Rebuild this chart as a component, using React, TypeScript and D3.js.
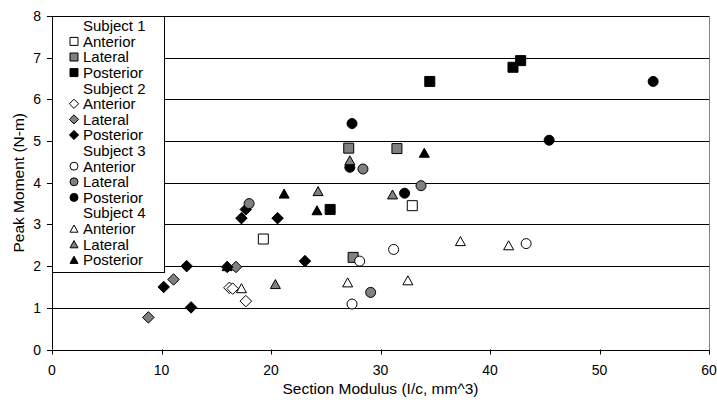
import React from "react";
import * as d3 from "d3";

// ---- data ----
const xTicks = [0, 10, 20, 30, 40, 50, 60];
const yTicks = [0, 1, 2, 3, 4, 5, 6, 7, 8];

const s1Anterior = [[19.3, 2.65], [32.9, 3.45]];
const s1Lateral = [[27.1, 4.83], [31.5, 4.82], [27.5, 2.21]];
const s1Posterior = [[25.4, 3.36], [34.5, 6.43], [42.1, 6.77], [42.8, 6.93]];

const s2Anterior = [[16.2, 1.48], [16.5, 1.46], [17.7, 1.16]];
const s2Lateral = [[8.8, 0.77], [11.1, 1.68], [16.8, 1.98]];
const s2Posterior = [[10.2, 1.5], [12.3, 2.0], [12.7, 1.01], [16.0, 1.98], [17.3, 3.15], [17.7, 3.36], [20.6, 3.15], [23.1, 2.12]];

const s3Anterior = [[28.1, 2.12], [31.2, 2.4], [27.4, 1.09], [43.3, 2.54]];
const s3Lateral = [[18.0, 3.5], [28.4, 4.33], [33.7, 3.93], [29.1, 1.37]];
const s3Posterior = [[27.4, 5.42], [27.2, 4.37], [32.2, 3.75], [45.4, 5.02], [54.9, 6.43]];

const s4Anterior = [[17.3, 1.47], [27.0, 1.61], [32.5, 1.66], [37.3, 2.6], [41.7, 2.5]];
const s4Lateral = [[20.4, 1.57], [24.3, 3.8], [27.2, 4.54], [31.1, 3.72]];
const s4Posterior = [[16.0, 2.0], [21.2, 3.74], [24.2, 3.34], [34.0, 4.72]];

const subjects = ["Subject 1", "Subject 2", "Subject 3", "Subject 4"];
const shapes = ["square", "diamond", "circle", "triangle"];
const sides = ["Anterior", "Lateral", "Posterior"];
const fills = ["#ffffff", "#808080", "#000000"];
const seriesData = [
  [s1Anterior, s1Lateral, s1Posterior],
  [s2Anterior, s2Lateral, s2Posterior],
  [s3Anterior, s3Lateral, s3Posterior],
  [s4Anterior, s4Lateral, s4Posterior],
];

// ---- layout ----
const W = 717, H = 405;
const L = 52, T = 16, R = 709, B = 349.5;
const FONT = "'Liberation Sans', Arial, sans-serif";

function markerPath(shape: string, s: number) {
  const h = s / 2;
  if (shape === "square") return `M${-h},${-h}H${h}V${h}H${-h}Z`;
  if (shape === "diamond") {
    const d = h * 1.15;
    return `M0,${-d}L${d},0L0,${d}L${-d},0Z`;
  }
  if (shape === "triangle") {
    const th = s * 0.9;
    return `M0,${-th / 2}L${h},${th / 2}L${-h},${th / 2}Z`;
  }
  return d3.arc()({ innerRadius: 0, outerRadius: h, startAngle: 0, endAngle: 2 * Math.PI }) as string;
}

export default function App() {
  const x = d3.scaleLinear().domain([0, 60]).range([L, R]);
  const y = d3.scaleLinear().domain([0, 8]).range([B, T]);

  const legendRows: { label: string; shape?: string; fill?: string }[] = [];
  subjects.forEach((sub, i) => {
    legendRows.push({ label: sub });
    sides.forEach((sd, j) => legendRows.push({ label: sd, shape: shapes[i], fill: fills[j] }));
  });
  const rowH = 15.6;
  const legTop = T + 2;

  return (
    <svg width={W} height={H} style={{ position: "absolute", left: 0, top: 0, background: "#fff" }} fontFamily={FONT}>
      {/* gridlines */}
      {yTicks.filter((t) => t > 0).map((t) => (
        <line key={"g" + t} x1={L} x2={R} y1={Math.round(y(t)) + 0.5} y2={Math.round(y(t)) + 0.5} stroke="#000" strokeWidth={1} />
      ))}
      {/* plot border right */}
      <line x1={R + 0.5} x2={R + 0.5} y1={T} y2={B} stroke="#808080" strokeWidth={1} />
      {/* axes */}
      <line x1={L + 0.5} x2={L + 0.5} y1={T} y2={B} stroke="#000" />
      <line x1={L} x2={R + 1} y1={Math.round(B) + 0.5} y2={Math.round(B) + 0.5} stroke="#000" />
      {yTicks.map((t) => (
        <g key={"yt" + t}>
          <line x1={L - 5} x2={L} y1={Math.round(y(t)) + 0.5} y2={Math.round(y(t)) + 0.5} stroke="#000" />
          <text x={L - 11} y={y(t)} dy="0.36em" textAnchor="end" fontSize={14}>{t}</text>
        </g>
      ))}
      {xTicks.map((t) => (
        <g key={"xt" + t}>
          <line x1={Math.round(x(t)) + 0.5} x2={Math.round(x(t)) + 0.5} y1={B} y2={B + 5} stroke="#000" />
          <text x={x(t)} y={B + 20} dy="0.36em" textAnchor="middle" fontSize={14}>{t}</text>
        </g>
      ))}
      <text x={(L + R) / 2} y={388} dy="0.36em" textAnchor="middle" fontSize={15.5}>Section Modulus (I/c, mm^3)</text>
      <text transform={`translate(18,${(T + B) / 2}) rotate(-90)`} dy="0.36em" textAnchor="middle" fontSize={15.5}>Peak Moment (N-m)</text>

      {/* points */}
      {seriesData.map((subj, i) =>
        subj.map((pts, j) =>
          pts.map((p, k) => (
            <path key={`p${i}-${j}-${k}`} d={markerPath(shapes[i], 10)} transform={`translate(${x(p[0])},${y(p[1])})`}
              fill={fills[j]} stroke="#000" strokeWidth={1} />
          ))
        )
      )}

      {/* legend */}
      <rect x={L + 0.5} y={T + 0.5} width={112} height={256} fill="#fff" stroke="#000" />
      {legendRows.map((r, i) => {
        const cy = legTop + rowH * (i + 0.5);
        return (
          <g key={"l" + i}>
            {r.shape && (
              <path d={markerPath(r.shape, 8)} transform={`translate(74,${cy})`} fill={r.fill} stroke="#000" strokeWidth={1} />
            )}
            <text x={83} y={cy} dy="0.36em" fontSize={15}>{r.label}</text>
          </g>
        );
      })}
    </svg>
  );
}
